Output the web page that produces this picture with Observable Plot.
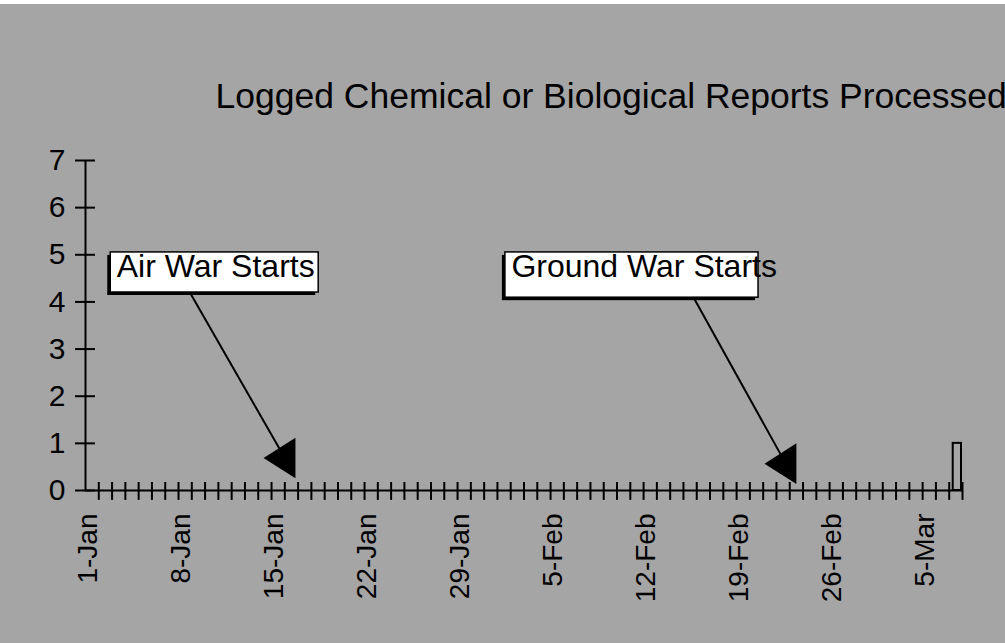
<!DOCTYPE html>
<html>
<head>
<meta charset="utf-8">
<script src="https://cdn.jsdelivr.net/npm/d3@7"></script>
<script src="https://cdn.jsdelivr.net/npm/@observablehq/plot@0.6"></script>
<style>
  body { margin: 0; background: #ffffff; }
  #chart { padding-top: 4px; }
  #chart svg { display: block; }
</style>
</head>
<body>
<div id="chart"></div>
<script>
// ---- data ----
const startUTC = Date.UTC(1991, 0, 1);
const day = n => new Date(startUTC + n * 864e5);

// daily reports, 1-Jan .. 7-Mar (66 days)
const reports = [
  0,0,0,0,0,0,0,0,0,0,0,
  0,0,0,0,0,0,0,0,0,0,0,
  0,0,0,0,0,0,0,0,0,0,0,
  0,0,0,0,0,0,0,0,0,0,0,
  0,0,0,0,0,0,0,0,0,0,0,
  0,0,0,0,0,0,0,0,0,0,1
];
const tickLabels = ["1-Jan","8-Jan","15-Jan","22-Jan","29-Jan","5-Feb","12-Feb","19-Feb","26-Feb","5-Mar"];
const tickDays = [0, 7, 14, 21, 28, 35, 42, 49, 56, 63];
const yTicks = [0, 1, 2, 3, 4, 5, 6, 7];
const title = "Logged Chemical or Biological Reports Processed";

// annotations (positions in data space: day offset from 1-Jan, report count)
const annotations = [
  {label: "Air War Starts",    boxX1: 1.9,  boxX2: 17.55, boxY1: 4.2,  boxY2: 5.05, lineX: 7.9,  lineY: 4.18, tipX: 15.0, tipY: 0.69},
  {label: "Ground War Starts", boxX1: 31.6, boxX2: 50.65, boxY1: 4.09, boxY2: 5.05, lineX: 45.75, lineY: 4.1, tipX: 52.7, tipY: 0.57}
];

const bars = reports.map((v, i) => ({start: day(i), end: day(i + 1), count: v}));
const bg = "#a5a5a5";

// left-pointing triangle symbol
const leftTriangle = {
  draw(ctx, size) {
    const r = Math.sqrt(size / Math.PI);
    const w = 2.2 * r, h = 2.8 * r;
    ctx.moveTo(-2 * w / 3, 0);
    ctx.lineTo(w / 3, -h / 2);
    ctx.lineTo(w / 3, h / 2);
    ctx.closePath();
  }
};

const chart = Plot.plot({
  width: 1005,
  height: 639,
  marginLeft: 85,
  marginRight: 43,
  marginTop: 156,
  marginBottom: 153,
  style: {background: bg, fontFamily: "'Liberation Sans', Arial, sans-serif", color: "#000", overflow: "visible"},
  x: {type: "utc", domain: [day(0), day(66)], axis: null},
  y: {domain: [0, 7], axis: null},
  marks: [
    Plot.rect(bars.filter(d => d.count > 0), {x1: "start", x2: "end", y1: 0, y2: "count", fill: bg, stroke: "#000", strokeWidth: 2, insetLeft: 4, insetRight: 1}),
    Plot.ruleX([0], {x: () => day(0), y1: 0, y2: 7, stroke: "#000", strokeWidth: 2}),
    Plot.ruleY([0], {x1: () => day(0), x2: () => day(66), stroke: "#000", strokeWidth: 2}),
    Plot.ruleY(yTicks, {y: d => d, x1: () => day(-0.75), x2: () => day(0.75), stroke: "#000", strokeWidth: 2}),
    Plot.ruleX(d3.range(1, 67), {x: d => day(d), y1: -0.21, y2: 0.17, stroke: "#000", strokeWidth: 2}),
    Plot.text(yTicks, {y: d => d, x: () => day(0), text: d => String(d), dx: -20, textAnchor: "end", fontSize: 30, fill: "#000"}),
    Plot.text(tickLabels, {x: (d, i) => day(tickDays[i] + 0.5), y: () => 0, text: d => d, dx: -4, dy: 23, rotate: -90, textAnchor: "end", fontSize: 28, fill: "#000"}),
    Plot.text([title], {frameAnchor: "top-left", text: d => d, dx: 130, dy: -78, textAnchor: "start", fontSize: 35.5, fill: "#000"}),
    Plot.link(annotations, {x1: d => day(d.lineX), y1: "lineY", x2: d => day(d.tipX), y2: "tipY", stroke: "#000", strokeWidth: 2}),
    Plot.dot(annotations, {x: d => day(d.tipX), y: "tipY", symbol: leftTriangle, r: 14.5, fill: "#000", stroke: null}),
    Plot.rect(annotations, {x1: d => day(d.boxX1), x2: d => day(d.boxX2), y1: "boxY1", y2: "boxY2", fill: "#000", dx: -3, dy: 3}),
    Plot.rect(annotations, {x1: d => day(d.boxX1), x2: d => day(d.boxX2), y1: "boxY1", y2: "boxY2", fill: "#fff", stroke: "#000", strokeWidth: 1.5}),
    Plot.text(annotations, {x: d => day(d.boxX1), y: "boxY2", text: "label", dx: 6, dy: 2, textAnchor: "start", lineAnchor: "top", fontSize: 32, fill: "#000"})
  ]
});
document.getElementById("chart").append(chart);
</script>
</body>
</html>
